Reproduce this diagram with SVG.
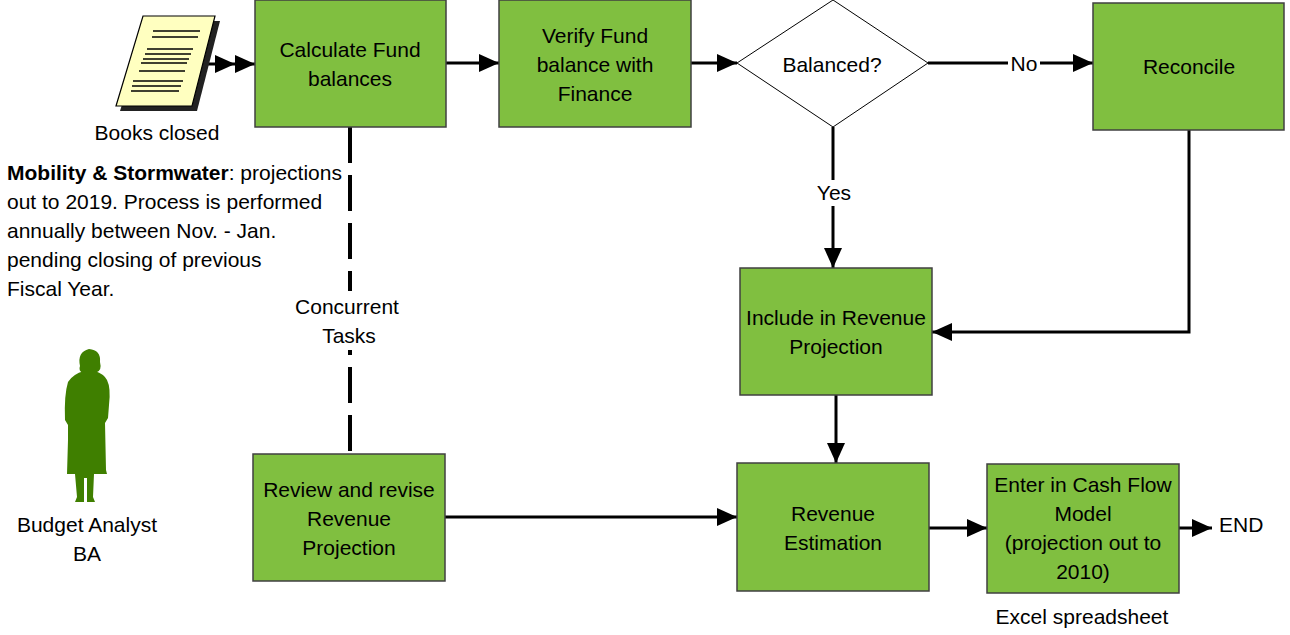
<svg xmlns="http://www.w3.org/2000/svg" width="1290" height="635" viewBox="0 0 1290 635">
<style>
text{font-family:"Liberation Sans",Arial,sans-serif;font-size:21px;fill:#000}
.c{text-anchor:middle}
.box{fill:#80bf40;stroke:#404040;stroke-width:1.5}
.ln{fill:none;stroke:#000;stroke-width:3}
.doc{stroke:#000;stroke-width:1.2}
</style>
<defs>
<marker id="ah" markerUnits="userSpaceOnUse" markerWidth="20" markerHeight="18" refX="20" refY="9" orient="auto" viewBox="0 0 20 18">
<path d="M0,0 L20,9 L0,18 Z" fill="#000"/>
</marker>
</defs>
<rect width="1290" height="635" fill="#fff"/>

<g id="connectors">
<path class="ln" d="M207,64 L235,64 L255,64" marker-mid="url(#ah)" marker-end="url(#ah)"/>
<path class="ln" d="M446,63 L499,63" marker-end="url(#ah)"/>
<path class="ln" d="M691,63 L737,63" marker-end="url(#ah)"/>
<path class="ln" d="M928,63 L1093,63" marker-end="url(#ah)"/>
<path class="ln" d="M833,127 L833,268" marker-end="url(#ah)"/>
<path class="ln" d="M1189,130 L1189,332 L932,332" marker-end="url(#ah)"/>
<path class="ln" d="M836,395 L836,463" marker-end="url(#ah)"/>
<path class="ln" d="M445,517 L737,517" marker-end="url(#ah)"/>
<path class="ln" d="M929,528 L987,528" marker-end="url(#ah)"/>
<path class="ln" d="M1179,528 L1212,528" marker-end="url(#ah)"/>
<path d="M350,127 L350,454" fill="none" stroke="#000" stroke-width="4" stroke-dasharray="36 12"/>
<rect x="1008" y="52" width="32" height="22" fill="#fff"/>
<text class="c" x="1024" y="71">No</text>
<rect x="814" y="180" width="40" height="26" fill="#fff"/>
<text class="c" x="834" y="200">Yes</text>
<rect x="292" y="291" width="116" height="59" fill="#fff"/>
<text class="c" x="347" y="314">Concurrent</text>
<text class="c" x="349" y="343">Tasks</text>
</g>

<g id="books-closed">
<polygon points="148,21 220,21 197,111 120,111" fill="#222"/>
<polygon class="doc" points="143,16 215,16 192,106 116,106" fill="#ffffc0"/>
<g stroke="#000" stroke-width="1.3">
<line x1="153" y1="31" x2="200" y2="31"/>
<line x1="152" y1="37" x2="198" y2="37"/>
<line x1="147" y1="49" x2="193" y2="49"/>
<line x1="145" y1="54" x2="191" y2="54"/>
<line x1="143" y1="59" x2="189" y2="59"/>
<line x1="141" y1="63" x2="187" y2="63"/>
<line x1="139" y1="71" x2="185" y2="71"/>
<line x1="133" y1="81" x2="183" y2="81"/>
<line x1="132" y1="86" x2="181" y2="86"/>
<line x1="131" y1="91" x2="179" y2="91"/>
</g>
<text class="c" x="157" y="140">Books closed</text>
</g>

<g id="calculate">
<rect class="box" x="255" y="0" width="191" height="127"/>
<text class="c" x="350" y="57">Calculate Fund</text>
<text class="c" x="350" y="86">balances</text>
</g>

<g id="verify">
<rect class="box" x="499" y="0" width="192" height="127"/>
<text class="c" x="595" y="43">Verify Fund</text>
<text class="c" x="595" y="72">balance with</text>
<text class="c" x="595" y="101">Finance</text>
</g>

<g id="balanced">
<polygon points="833,0 928,63 833,127 737,63" fill="#fff" stroke="#000" stroke-width="1"/>
<text class="c" x="832" y="72">Balanced?</text>
</g>

<g id="reconcile">
<rect class="box" x="1093" y="3" width="191" height="127"/>
<text class="c" x="1189" y="74">Reconcile</text>
</g>

<g id="include">
<rect class="box" x="740" y="268" width="192" height="127"/>
<text class="c" x="836" y="325">Include in Revenue</text>
<text class="c" x="836" y="354">Projection</text>
</g>

<g id="review">
<rect class="box" x="253" y="454" width="192" height="127"/>
<text class="c" x="349" y="497">Review and revise</text>
<text class="c" x="349" y="526">Revenue</text>
<text class="c" x="349" y="555">Projection</text>
</g>

<g id="estimation">
<rect class="box" x="737" y="463" width="192" height="128"/>
<text class="c" x="833" y="521">Revenue</text>
<text class="c" x="833" y="550">Estimation</text>
</g>

<g id="cashflow">
<rect class="box" x="987" y="464" width="192" height="129"/>
<text class="c" x="1083" y="492">Enter in Cash Flow</text>
<text class="c" x="1083" y="521">Model</text>
<text class="c" x="1083" y="550">(projection out to</text>
<text class="c" x="1083" y="579">2010)</text>
<text class="c" x="1082" y="624">Excel spreadsheet</text>
</g>

<g id="end">
<text x="1219" y="532">END</text>
</g>

<g id="note">
<text x="7" y="180"><tspan font-weight="bold">Mobility &amp; Stormwater</tspan>: projections</text>
<text x="7" y="209">out to 2019. Process is performed</text>
<text x="7" y="238">annually between Nov. - Jan.</text>
<text x="7" y="267">pending closing of previous</text>
<text x="7" y="296">Fiscal Year.</text>
</g>

<g id="budget-analyst">
<path fill="#3f7f00" d="M80,366 Q77,352 89,349 Q101,350 100,362 Q102,370 97,372 L83,373 Q78,371 80,366 Z"/>
<path fill="#3f7f00" d="M84,371 L95,371 Q104,374 107,380 Q111,388 109,405 L108,418 L105,423 L106,470 L107,474 L94,474 L93,497 L95,502 L87,502 L87,478 L84,478 L84,502 L75,502 L77,497 L75,474 L67,474 L68,440 L68,425 L65,420 Q64,395 68,382 Q73,374 84,371 Z"/>
<text class="c" x="87" y="532">Budget Analyst</text>
<text class="c" x="87" y="561">BA</text>
</g>
</svg>
